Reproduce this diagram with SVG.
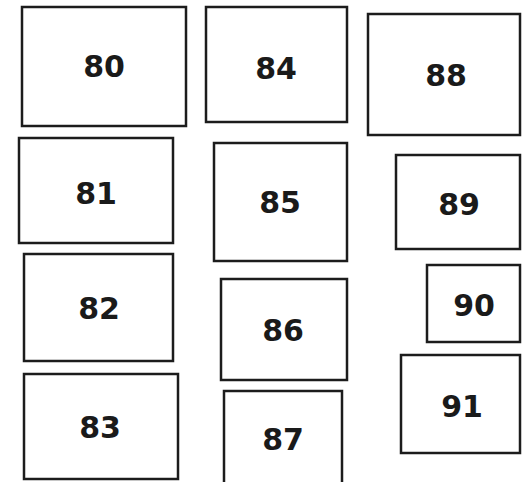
<svg xmlns="http://www.w3.org/2000/svg" width="522" height="482" viewBox="0 0 522 482">
<style>
rect.b{fill:#fff;stroke:#1c1c1c;stroke-width:2.5}
text{font-family:"DejaVu Sans","Liberation Sans",sans-serif;font-weight:bold;font-size:30px;fill:#1a1a1a;text-anchor:middle}
</style>
<rect width="522" height="482" fill="#fff"/>
<g id="n80"><rect class="b" x="22" y="7" width="164" height="119"/><text x="104" y="77">80</text></g>
<g id="n81"><rect class="b" x="19" y="138" width="154" height="105"/><text x="96" y="204">81</text></g>
<g id="n82"><rect class="b" x="24" y="254" width="149" height="107"/><text x="99" y="319">82</text></g>
<g id="n83"><rect class="b" x="24" y="374" width="154" height="105"/><text x="100" y="438">83</text></g>
<g id="n84"><rect class="b" x="206" y="7" width="141" height="115"/><text x="276" y="79">84</text></g>
<g id="n85"><rect class="b" x="214" y="143" width="133" height="118"/><text x="280" y="213">85</text></g>
<g id="n86"><rect class="b" x="221" y="279" width="126" height="101"/><text x="283" y="341">86</text></g>
<g id="n87"><rect class="b" x="224" y="391" width="118" height="100"/><text x="283" y="450">87</text></g>
<g id="n88"><rect class="b" x="368" y="14" width="152" height="121"/><text x="446" y="86">88</text></g>
<g id="n89"><rect class="b" x="396" y="155" width="124" height="94"/><text x="459" y="215">89</text></g>
<g id="n90"><rect class="b" x="427" y="265" width="93" height="77"/><text x="474" y="316">90</text></g>
<g id="n91"><rect class="b" x="401" y="355" width="119" height="98"/><text x="462" y="417">91</text></g>
<g id="connectors"/>
</svg>
